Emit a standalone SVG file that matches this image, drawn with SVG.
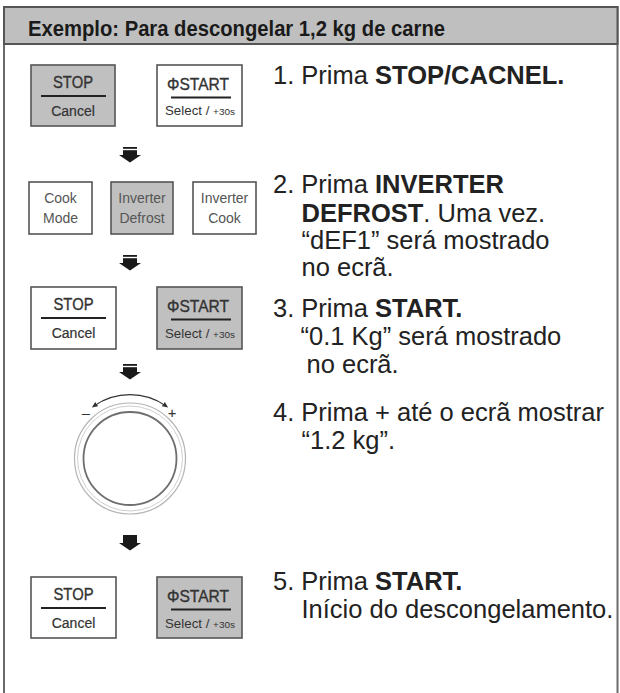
<svg xmlns="http://www.w3.org/2000/svg" width="620" height="693" viewBox="0 0 620 693">
<style>
.frame{fill:#fff;stroke:#6a6a6a;stroke-width:2}
.hdr{fill:#bfbfbf;stroke:#555;stroke-width:2}
.htxt{font-family:"Liberation Sans",Arial,sans-serif;font-weight:bold;font-size:21.5px;fill:#1a1a1a}
.btn{stroke:#555;stroke-width:1.6}
.on{fill:#c0c0c0}
.off{fill:#fff}
.bl{font-family:"Liberation Sans",Arial,sans-serif;fill:#333;text-anchor:middle}
.big{font-size:17px;stroke:#333;stroke-width:0.35}
.small{font-size:14px;stroke:#333;stroke-width:0.2}
.tiny{font-size:12px}
.lbl{font-family:"Liberation Sans",Arial,sans-serif;font-size:14px;fill:#555;text-anchor:middle}
.sep{stroke:#222;stroke-width:2}
.step{font-family:"Liberation Sans",Arial,sans-serif;font-size:25.5px;fill:#222}
.b{font-weight:bold}
.arw{fill:#1a1a1a}
</style>
<defs>
<marker id="ah" viewBox="0 0 10 10" refX="5" refY="5" markerWidth="5" markerHeight="5" orient="auto-start-reverse">
<path d="M0,1 L9,5 L0,9 z" fill="#333"/>
</marker>
<g id="arrowSym">
<rect x="-7" y="0" width="14" height="1.8"/>
<rect x="-7" y="3.2" width="14" height="5"/>
<path d="M-11,8 L11,8 L0,15.5 z"/>
</g>
</defs>

<rect class="frame" x="4" y="7" width="613.5" height="700"/>
<g id="header">
<rect class="hdr" x="4" y="7" width="613.5" height="37"/>
<text class="htxt" x="28" y="35.5" textLength="417" lengthAdjust="spacingAndGlyphs">Exemplo: Para descongelar 1,2 kg de carne</text>
</g>

<!-- Row 1 -->
<g id="stop1">
<rect class="btn on" x="31" y="65" width="84" height="61"/>
<text class="bl big" x="73" y="88" textLength="40" lengthAdjust="spacingAndGlyphs">STOP</text>
<line class="sep" x1="41" y1="96" x2="106" y2="96"/>
<text class="bl small" x="73" y="115.5">Cancel</text>
</g>
<g id="start1">
<rect class="btn off" x="157" y="65" width="85" height="61"/>
<text class="bl big" x="198" y="90" textLength="62" lengthAdjust="spacingAndGlyphs">ΦSTART</text>
<line class="sep" x1="171" y1="97.5" x2="231" y2="97.5"/>
<text class="bl tiny" x="200" y="115" textLength="70" lengthAdjust="spacingAndGlyphs">Select / <tspan font-size="9">+30s</tspan></text>
</g>

<!-- Row 2 -->
<g id="cookmode">
<rect class="btn off" x="29" y="182" width="63" height="52"/>
<text class="lbl" x="60.5" y="203">Cook</text>
<text class="lbl" x="60.5" y="222.5">Mode</text>
</g>
<g id="invdefrost">
<rect class="btn on" x="111" y="182" width="62" height="52"/>
<text class="lbl" x="142" y="203">Inverter</text>
<text class="lbl" x="142" y="222.5">Defrost</text>
</g>
<g id="invcook">
<rect class="btn off" x="193" y="182" width="63" height="52"/>
<text class="lbl" x="224.5" y="203">Inverter</text>
<text class="lbl" x="224.5" y="222.5">Cook</text>
</g>

<!-- Row 3 -->
<g id="stop3">
<rect class="btn off" x="31" y="287" width="85" height="62"/>
<text class="bl big" x="73.5" y="310" textLength="40" lengthAdjust="spacingAndGlyphs">STOP</text>
<line class="sep" x1="41" y1="318" x2="106" y2="318"/>
<text class="bl small" x="73.5" y="338">Cancel</text>
</g>
<g id="start3">
<rect class="btn on" x="157" y="287" width="85" height="62"/>
<text class="bl big" x="198" y="312" textLength="62" lengthAdjust="spacingAndGlyphs">ΦSTART</text>
<line class="sep" x1="171" y1="319.5" x2="231" y2="319.5"/>
<text class="bl tiny" x="200" y="338" textLength="70" lengthAdjust="spacingAndGlyphs">Select / <tspan font-size="9">+30s</tspan></text>
</g>

<!-- Dial -->
<g id="dial">
<circle cx="130" cy="458.5" r="55.5" fill="none" stroke="#b5b5b5" stroke-width="1.2"/>
<circle cx="130" cy="458.5" r="52.5" fill="none" stroke="#cfcfcf" stroke-width="1"/>
<circle cx="130" cy="458.5" r="46.5" fill="#fff" stroke="#6e6e6e" stroke-width="1.8"/>
<path d="M94,406 A63,63 0 0 1 166,406" fill="none" stroke="#333" stroke-width="1.3" marker-start="url(#ah)" marker-end="url(#ah)"/>
<text class="bl small" x="86" y="418">–</text>
<text class="bl small" x="172" y="418">+</text>
</g>

<!-- Row 5 -->
<g id="stop5">
<rect class="btn off" x="31" y="577" width="85" height="61"/>
<text class="bl big" x="73.5" y="600" textLength="40" lengthAdjust="spacingAndGlyphs">STOP</text>
<line class="sep" x1="41" y1="608" x2="106" y2="608"/>
<text class="bl small" x="73.5" y="627.5">Cancel</text>
</g>
<g id="start5">
<rect class="btn on" x="157" y="577" width="85" height="61"/>
<text class="bl big" x="198" y="602" textLength="62" lengthAdjust="spacingAndGlyphs">ΦSTART</text>
<line class="sep" x1="171" y1="609.5" x2="231" y2="609.5"/>
<text class="bl tiny" x="200" y="627.5" textLength="70" lengthAdjust="spacingAndGlyphs">Select / <tspan font-size="9">+30s</tspan></text>
</g>

<!-- Connectors -->
<g id="connectors" class="arw">
<use href="#arrowSym" x="130" y="147"/>
<use href="#arrowSym" x="130" y="255"/>
<use href="#arrowSym" x="130" y="364"/>
<path d="M123,535 L137,535 L137,543 L141,543 L130,550.5 L119,543 L123,543 z"/>
</g>

<!-- Step texts -->
<g id="step1">
<text class="step" x="273" y="84">1. Prima <tspan class="b">STOP/CACNEL.</tspan></text>
</g>
<g id="step2">
<text class="step" x="273" y="192.5">2. Prima <tspan class="b">INVERTER</tspan></text>
<text class="step" x="301.5" y="221.5"><tspan class="b">DEFROST</tspan>. Uma vez.</text>
<text class="step" x="301.5" y="249">“dEF1” será mostrado</text>
<text class="step" x="301.5" y="276">no ecrã.</text>
</g>
<g id="step3">
<text class="step" x="273" y="316.5">3. Prima <tspan class="b">START.</tspan></text>
<text class="step" x="300.5" y="345">“0.1 Kg” será mostrado</text>
<text class="step" x="306.5" y="373">no ecrã.</text>
</g>
<g id="step4">
<text class="step" x="273" y="420.5">4. Prima + até o ecrã mostrar</text>
<text class="step" x="301.5" y="449">“1.2 kg”.</text>
</g>
<g id="step5">
<text class="step" x="273" y="590">5. Prima <tspan class="b">START.</tspan></text>
<text class="step" x="301.5" y="617.5">Início do descongelamento.</text>
</g>
</svg>
